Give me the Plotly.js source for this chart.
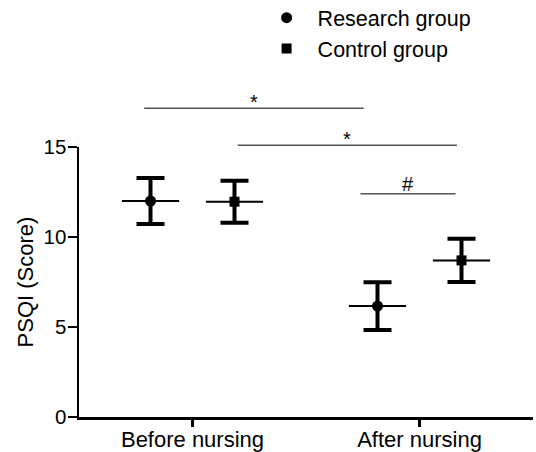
<!DOCTYPE html>
<html>
<head>
<meta charset="utf-8">
<script src="https://cdn.plot.ly/plotly-3.0.1.min.js"></script>
<style>html,body{margin:0;padding:0;background:#fff;}#chart{width:536px;height:452px;}</style>
</head>
<body>
<div id="chart"></div>
<script>
// ---- data ----
var categories = ['Before nursing', 'After nursing'];
var researchMean = [12.0, 6.16];
var researchErr = [1.28, 1.33];
var controlMean = [11.96, 8.7];
var controlErr = [1.17, 1.2];
var yTicks = [0, 5, 10, 15];
var sigLabels = ['*', '*', '#'];
var sigFrom = [-0.213, 0.199, 0.74];   // in category units
var sigTo = [0.754, 1.165, 1.159];
var sigLevel = [17.15, 15.1, 12.4];    // in PSQI units

// ---- layout helpers ----
var yMax = 15;
var groupOffset = 0.185;
var meanHalf = 0.126;
var catIdx = categories.map(function (c, i) { return i; });
var font = 'Arial, "Liberation Sans", Helvetica, sans-serif';

function groupTrace(name, means, errs, offset, symbol, size) {
  return {
    type: 'scatter', mode: 'markers', name: name,
    x: catIdx.map(function (i) { return i + offset; }),
    y: means,
    marker: { symbol: symbol, size: size, color: '#000' },
    error_y: { type: 'data', array: errs, visible: true, color: '#000', thickness: 4, width: 14 },
    error_x: { type: 'constant', value: meanHalf, visible: true, color: '#000', thickness: 2, width: 0 },
    cliponaxis: false
  };
}

var traces = [
  groupTrace('Research group', researchMean, researchErr, -groupOffset, 'circle', 11),
  groupTrace('Control group', controlMean, controlErr, groupOffset, 'square', 10)
];

var shapes = [];
var annotations = [];
sigLabels.forEach(function (lab, i) {
  var yp = sigLevel[i] / yMax;
  shapes.push({ type: 'line', xref: 'x', yref: 'paper', x0: sigFrom[i], x1: sigTo[i], y0: yp, y1: yp,
    line: { color: '#555', width: 1.5 } });
  annotations.push({ xref: 'x', yref: 'paper', x: (sigFrom[i] + sigTo[i]) / 2, y: yp, text: lab,
    showarrow: false, yanchor: 'bottom', yshift: lab === '#' ? -3 : -7,
    font: { family: font, size: 20, color: '#000' } });
});

var layout = {
  width: 536, height: 452,
  margin: { l: 79, r: 3, t: 147, b: 34.5, autoexpand: false },
  paper_bgcolor: '#fff', plot_bgcolor: '#fff',
  font: { family: font, color: '#000', size: 22 },
  showlegend: true,
  legend: { x: 0.389, y: 1.555, xanchor: 'left', yanchor: 'top',
    itemwidth: 52, font: { size: 21.5, family: font, color: '#000' }, bgcolor: 'rgba(0,0,0,0)' },
  xaxis: {
    range: [-0.5, 1.5], tickvals: catIdx, ticktext: categories, automargin: false,
    showline: true, linecolor: '#000', linewidth: 2.5,
    ticks: 'outside', ticklen: 7, tickwidth: 2.5, tickcolor: '#000', ticklabelstandoff: -6,
    showgrid: false, zeroline: false, tickfont: { size: 22 }
  },
  yaxis: {
    range: [0, yMax], tickvals: yTicks, automargin: false,
    showline: true, linecolor: '#000', linewidth: 2.5,
    ticks: 'outside', ticklen: 9, tickwidth: 2.5, tickcolor: '#000', ticklabelstandoff: -3,
    showgrid: false, zeroline: false, tickfont: { size: 20.5 },
    title: { text: 'PSQI (Score)', font: { size: 22 }, standoff: 4 }
  },
  shapes: shapes,
  annotations: annotations
};

Plotly.newPlot('chart', traces, layout, { displayModeBar: false, staticPlot: true });
</script>
</body>
</html>
